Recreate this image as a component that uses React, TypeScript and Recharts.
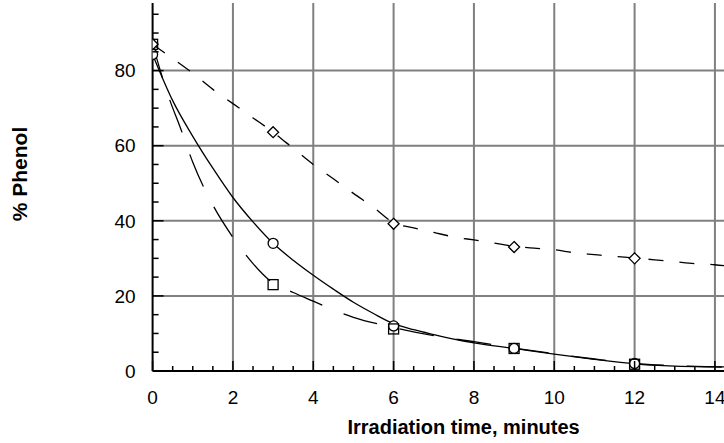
import { ComposedChart, Line, Scatter, XAxis, YAxis, CartesianGrid } from 'recharts';

// sampled points, minutes vs % phenol
const markerTimes = [0, 3, 6, 9, 12];
const diamondValues = [87, 63.6, 39.2, 33, 30];
const circleValues = [84.3, 34, 12, 6, 2];
const squareValues = [87, 23, 11.2, 6, 1.8];

// fitted curves
const shortDashX = [0, 0.5, 1, 1.5, 2, 2.5, 3, 3.5, 4, 4.5, 5, 5.5, 6, 6.5, 7, 7.5, 8, 8.5, 9, 9.5, 10, 10.5, 11, 11.5, 12, 12.5, 13, 13.5, 14, 14.5, 15];
const shortDashY = [87, 83.2, 79.3, 75, 71.2, 67.4, 63.6, 59.3, 55, 51.2, 47.3, 43.6, 39.5, 38.1, 36.9, 35.7, 34.9, 34.1, 33.2, 32.7, 32.3, 31.5, 31, 30.5, 30.1, 29.6, 29.1, 28.6, 28.3, 27.7, 27.3];

const solidX = [0, 0.5, 1, 1.5, 2, 2.5, 3, 3.5, 4, 4.5, 5, 5.5, 6, 6.5, 7, 7.5, 8, 9, 10, 11, 12, 13, 14, 15];
const solidY = [84.3, 72, 62.5, 54, 46.2, 39.7, 34, 29.5, 25.5, 21.8, 18.3, 15.3, 12.6, 11, 9.7, 8.5, 7.5, 6, 4.5, 3.1, 1.9, 1.3, 1.1, 1.0];

const longDashX = [0, 0.4, 0.7, 1, 1.5, 2, 2.5, 3, 3.5, 4, 4.5, 5, 6, 7, 8, 9, 10, 11, 12, 13, 14, 15];
const longDashY = [87, 73, 64.5, 55.6, 44.2, 35.6, 28.6, 23.4, 20.9, 18.6, 16.3, 14.3, 11.6, 9.4, 7.8, 6.1, 4.6, 3.2, 2, 1.4, 1.1, 1.0];

const xTicks = [0, 0.5, 1, 1.5, 2, 2.5, 3, 3.5, 4, 4.5, 5, 5.5, 6, 6.5, 7, 7.5, 8, 8.5, 9, 9.5, 10, 10.5, 11, 11.5, 12, 12.5, 13, 13.5, 14, 14.5, 15];
const yTicks = [0, 5, 10, 15, 20, 25, 30, 35, 40, 45, 50, 55, 60, 65, 70, 75, 80, 85, 90, 95];
const xGrid = [2, 4, 6, 8, 10, 12, 14];
const yGrid = [20, 40, 60, 80];

const toPoints = (xs: number[], ys: number[]) => xs.map((x, i) => ({ x, y: ys[i] }));

const shortDashData = toPoints(shortDashX, shortDashY);
const solidData = toPoints(solidX, solidY);
const longDashData = toPoints(longDashX, longDashY);
const diamondData = toPoints(markerTimes, diamondValues);
const circleData = toPoints(markerTimes, circleValues);
const squareData = toPoints(markerTimes, squareValues);

const FONT = 'Arial, "Liberation Sans", Helvetica, sans-serif';

function XTick(props: any) {
  const { x, y, payload } = props;
  const v = payload.value;
  const major = v % 2 === 0;
  return (
    <g>
      <line x1={x} y1={y} x2={x} y2={y - (major ? 10 : 5)} stroke="#000" strokeWidth={1.5} />
      {major && v <= 14 && (
        <text x={x} y={y + 33} textAnchor="middle" fontSize={19} fontFamily={FONT} fill="#000">
          {v}
        </text>
      )}
    </g>
  );
}

function YTick(props: any) {
  const { x, y, payload } = props;
  const v = payload.value;
  const major = v % 20 === 0;
  return (
    <g>
      <line x1={x} y1={y} x2={x + (major ? 11 : 6)} y2={y} stroke="#000" strokeWidth={1.5} />
      {major && (
        <text x={x - 17} y={y} dy="0.355em" textAnchor="end" fontSize={19} fontFamily={FONT} fill="#000">
          {v}
        </text>
      )}
    </g>
  );
}

const diamond = (props: any) => {
  const { cx, cy } = props;
  const r = 5.5;
  return <path d={`M${cx},${cy - r}L${cx + r},${cy}L${cx},${cy + r}L${cx - r},${cy}Z`} fill="#fff" stroke="#000" strokeWidth={1.3} />;
};
const circle = (props: any) => <circle cx={props.cx} cy={props.cy} r={5} fill="#fff" stroke="#000" strokeWidth={1.3} />;
const square = (props: any) => (
  <rect x={props.cx - 5} y={props.cy - 5} width={10} height={10} fill="none" stroke="#000" strokeWidth={1.3} />
);

export default function App() {
  return (
    <div style={{ position: 'absolute', left: 0, top: 0, width: 724, height: 443, overflow: 'hidden', background: '#fff' }}>
      <div style={{ position: 'absolute', left: 0, top: -10 }}>
        <ComposedChart width={756} height={460} margin={{ top: 13, right: 0.9, left: 0, bottom: 0 }}>
          <CartesianGrid
            horizontalValues={yGrid}
            verticalValues={xGrid}
            stroke="#808080"
            strokeWidth={2}
          />
          <XAxis
            type="number"
            dataKey="x"
            domain={[0, 15]}
            ticks={xTicks}
            interval={0}
            height={79}
            tickSize={0}
            tickMargin={0}
            tickLine={false}
            tick={<XTick />}
            axisLine={{ stroke: '#000', strokeWidth: 2 }}
            allowDataOverflow
            label={{
              content: (p: any) => {
                const vb = p.viewBox || { x: 152.6, y: 381 };
                return (
                  <text x={vb.x + 311} y={vb.y + 63} textAnchor="middle" fontSize={20} fontWeight="bold" fontFamily={FONT} fill="#000">
                    Irradiation time, minutes
                  </text>
                );
              },
            }}
          />
          <YAxis
            type="number"
            domain={[0, 98]}
            ticks={yTicks}
            interval={0}
            width={152.6}
            tickSize={0}
            tickMargin={0}
            tickLine={false}
            tick={<YTick />}
            axisLine={{ stroke: '#000', strokeWidth: 2 }}
            allowDataOverflow
            label={{
              content: (p: any) => {
                const vb = p.viewBox || { x: 0, y: 13 };
                const cx = vb.x + 20;
                const cy = vb.y + 171;
                return (
                  <text x={cx} y={cy} dy="0.355em" transform={`rotate(-90, ${cx}, ${cy})`} textAnchor="middle" fontSize={21} fontWeight="bold" fontFamily={FONT} fill="#000">
                    % Phenol
                  </text>
                );
              },
            }}
          />
          <Line data={shortDashData} dataKey="y" type="monotone" stroke="#000" strokeWidth={1.3} strokeDasharray="15 16" dot={false} isAnimationActive={false} />
          <Line data={solidData} dataKey="y" type="monotone" stroke="#000" strokeWidth={1.3} dot={false} isAnimationActive={false} />
          <Line data={longDashData} dataKey="y" type="monotone" stroke="#000" strokeWidth={1.3} strokeDasharray="35 23" dot={false} isAnimationActive={false} />
          <Scatter data={diamondData} dataKey="y" shape={diamond} isAnimationActive={false} />
          <Scatter data={circleData} dataKey="y" shape={circle} isAnimationActive={false} />
          <Scatter data={squareData} dataKey="y" shape={square} isAnimationActive={false} />
        </ComposedChart>
      </div>
    </div>
  );
}
